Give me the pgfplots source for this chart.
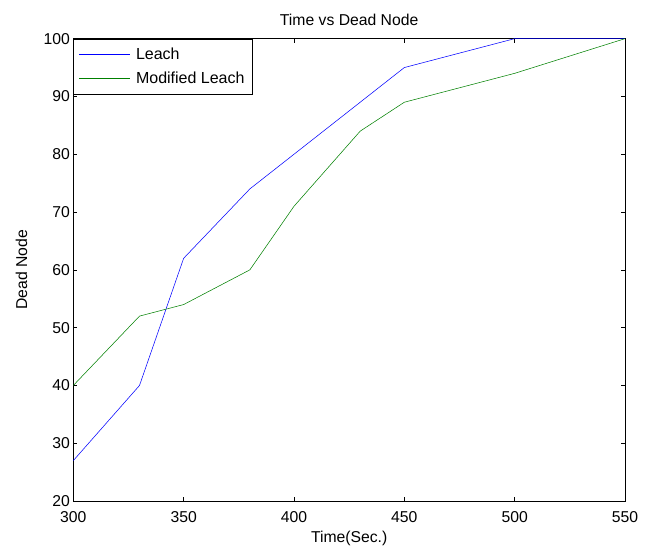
\documentclass[border=0pt]{standalone}
\usepackage{pgfplots}
\pgfplotsset{compat=1.18}
\usepackage{fontspec}
\setmainfont{Liberation Sans}
\begin{document}
\begin{tikzpicture}
\begin{axis}[
  scale only axis,
  width=414pt, height=347pt,
  xmin=300, xmax=550, ymin=20, ymax=100,
  xtick={300,350,...,550}, ytick={20,30,...,100},
  tick align=inside,
  major tick length=3pt,
  tick style={black, thin},
  axis line style={black, thin},
  /pgf/number format/assume math mode=true,
  tick label style={font=\fontsize{11.8}{13}\selectfont},
  yticklabel style={xshift=1pt},
  xticklabel style={yshift=-4pt},
  title={Time vs Dead Node},
  every axis title shift=0pt,
  title style={font=\fontsize{11.8}{13}\selectfont, at={(axis description cs:0.5,1.041)}, anchor=center, yshift=0pt},
  xlabel={Time(Sec.)},
  ylabel={Dead Node},
  label style={font=\fontsize{11.8}{13}\selectfont},
  xlabel style={at={(axis description cs:0.5,-0.08)}, anchor=center},
  ylabel style={at={(axis description cs:-0.094,0.5)}, anchor=center},
  legend style={at={(0,1)}, anchor=north west, draw=black, thin, font=\fontsize{12}{14}\selectfont, inner xsep=4pt, inner ysep=5pt, row sep=5pt, nodes={inner sep=1.5pt}},
  legend cell align=left,
  legend image code/.code={\draw[#1] (4pt,0pt) -- (42pt,0pt); \path (45pt,0pt);},
]
\addplot[blue, thin] coordinates {(300,27) (330,40) (350,62) (380,74) (400,80) (430,89) (450,95) (500,100) (550,100)};
\addlegendentry{Leach}
\addplot[green!50!black, thin] coordinates {(300,40) (330,52) (350,54) (380,60) (400,71) (430,84) (450,89) (500,94) (550,100)};
\addlegendentry{Modified Leach}
\end{axis}
\path (current axis.south west) ++(-55pt,-34.5pt) rectangle ([xshift=22.5pt,yshift=29pt]current axis.north east);
\end{tikzpicture}
\end{document}
